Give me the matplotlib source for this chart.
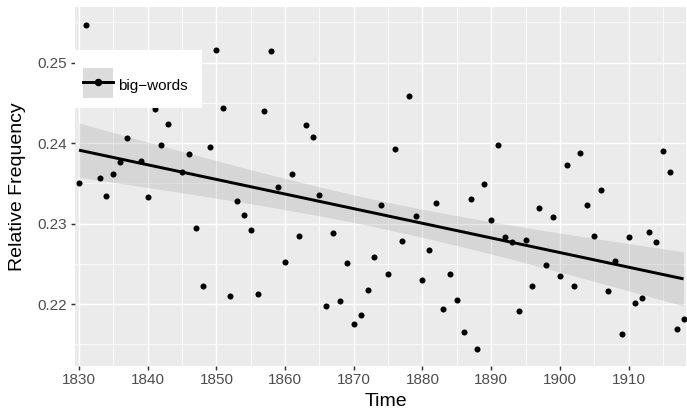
import numpy as np
import matplotlib
matplotlib.use("Agg")
import matplotlib.pyplot as plt
from matplotlib.patches import Rectangle
from matplotlib.lines import Line2D
from matplotlib.ticker import FixedLocator

plt.rcParams['font.family'] = ['Liberation Sans', 'DejaVu Sans']

years = list(range(1830, 1919))
freq = [
    0.2351, 0.2547, 0.2480, 0.2357, 0.2334, 0.2361, 0.2377, 0.2406, 0.2490, 0.2378,  # 1830-1839
    0.2333, 0.2442, 0.2397, 0.2424, 0.2470, 0.2364, 0.2386, 0.2294, 0.2222, 0.2395,  # 1840-1849
    0.2516, 0.2444, 0.2210, 0.2328, 0.2311, 0.2292, 0.2213, 0.2440, 0.2514, 0.2345,  # 1850-1859
    0.2252, 0.2362, 0.2285, 0.2422, 0.2408, 0.2336, 0.2197, 0.2288, 0.2204, 0.2251,  # 1860-1869
    0.2175, 0.2187, 0.2217, 0.2258, 0.2323, 0.2237, 0.2393, 0.2278, 0.2459, 0.2309,  # 1870-1879
    0.2230, 0.2267, 0.2325, 0.2194, 0.2237, 0.2205, 0.2165, 0.2330, 0.2144, 0.2349,  # 1880-1889
    0.2305, 0.2397, 0.2283, 0.2277, 0.2191, 0.2279, 0.2222, 0.2319, 0.2249, 0.2308,  # 1890-1899
    0.2235, 0.2373, 0.2223, 0.2388, 0.2323, 0.2285, 0.2342, 0.2216, 0.2253, 0.2163,  # 1900-1909
    0.2283, 0.2201, 0.2207, 0.2289, 0.2277, 0.2390, 0.2364, 0.2169, 0.2181,          # 1910-1918
]
series_label = "big\u2212words"
x_ticks = [1830, 1840, 1850, 1860, 1870, 1880, 1890, 1900, 1910]
y_ticks = [0.22, 0.23, 0.24, 0.25]

x = np.array(years, dtype=float)
y = np.array(freq)

# linear fit with 95% confidence band (like geom_smooth(method="lm"))
n = len(x)
b1, b0 = np.polyfit(x, y, 1)
resid = y - (b0 + b1 * x)
s = np.sqrt(np.sum(resid ** 2) / (n - 2))
xbar = x.mean()
sxx = np.sum((x - xbar) ** 2)
xs = np.linspace(x.min(), x.max(), 200)
ys = b0 + b1 * xs
tcrit = 1.9876
se = s * np.sqrt(1.0 / n + (xs - xbar) ** 2 / sxx)

W, H = 687, 412
fig = plt.figure(figsize=(W / 100, H / 100), dpi=100)
L, R, T, B = 75, 686, 7.3, 365.7
aw, ah = R - L, B - T
ax = fig.add_axes([L / W, 1 - B / H, aw / W, ah / H])
ax.set_facecolor('#EBEBEB')
for sp in ax.spines.values():
    sp.set_visible(False)

ax.set_xlim(1829.42, 1918.36)
ax.set_ylim(0.21234, 0.25687)

ax.xaxis.set_major_locator(FixedLocator(x_ticks))
ax.yaxis.set_major_locator(FixedLocator(y_ticks))
ax.xaxis.set_minor_locator(FixedLocator([t + 5 for t in x_ticks]))
ax.yaxis.set_minor_locator(FixedLocator([0.215, 0.225, 0.235, 0.245, 0.255]))
ax.set_xticklabels([str(t) for t in x_ticks])
ax.set_yticklabels([f"{t:.2f}" for t in y_ticks])
ax.grid(which='major', color='white', linewidth=1.07)
ax.grid(which='minor', color='white', linewidth=0.53)
ax.set_axisbelow(True)
ax.tick_params(which='major', length=2.9, width=1.07, color='#333333',
               labelsize=11, labelcolor='#4D4D4D')
ax.tick_params(axis='x', which='major', pad=2.0)
ax.tick_params(axis='y', which='major', pad=3.2)
ax.tick_params(which='minor', length=0)

ax.fill_between(xs, ys - tcrit * se, ys + tcrit * se, color='#999999', alpha=0.25,
                linewidth=0, zorder=2)
ax.scatter(x, y, s=19, color='black', linewidths=0, zorder=3)
ax.plot(xs, ys, color='black', linewidth=2.13, zorder=4, solid_capstyle='butt')

ax.set_xlabel('Time', fontsize=14, color='black')
ax.xaxis.label.set_va('baseline')
ax.xaxis.set_label_coords((385.6 - L) / aw, (B - 406.5) / ah)
ax.set_ylabel('Relative Frequency', fontsize=14, color='black')
ax.yaxis.label.set_va('baseline')
ax.yaxis.set_label_coords((22 - L) / aw, 0.5)

# legend box and key background
ax.add_patch(Rectangle((0, (B - 108.3) / ah), (201.7 - L) / aw, (108.3 - 50) / ah,
                       transform=ax.transAxes, facecolor='white', edgecolor='none',
                       zorder=10, clip_on=False))
ax.add_patch(Rectangle(((83.3 - L) / aw, (B - 98.3) / ah), 30 / aw, 30.3 / ah,
                       transform=ax.transAxes, facecolor='#DCDCDC', edgecolor='none',
                       zorder=10.5, clip_on=False))
h_line = Line2D([], [], color='black', linewidth=2.13, marker='o', markersize=4.4)
fs = 11
leg = ax.legend([h_line], [series_label],
                loc='upper left',
                bbox_to_anchor=((83.3 - L) / aw, (B - 74) / ah),
                borderaxespad=0, borderpad=0, frameon=False,
                handlelength=30 / (fs * 100 / 72), handleheight=30 / (fs * 100 / 72),
                handletextpad=0.33, fontsize=fs, numpoints=1)
leg.set_zorder(11)

fig.savefig('out.png', dpi=100)
